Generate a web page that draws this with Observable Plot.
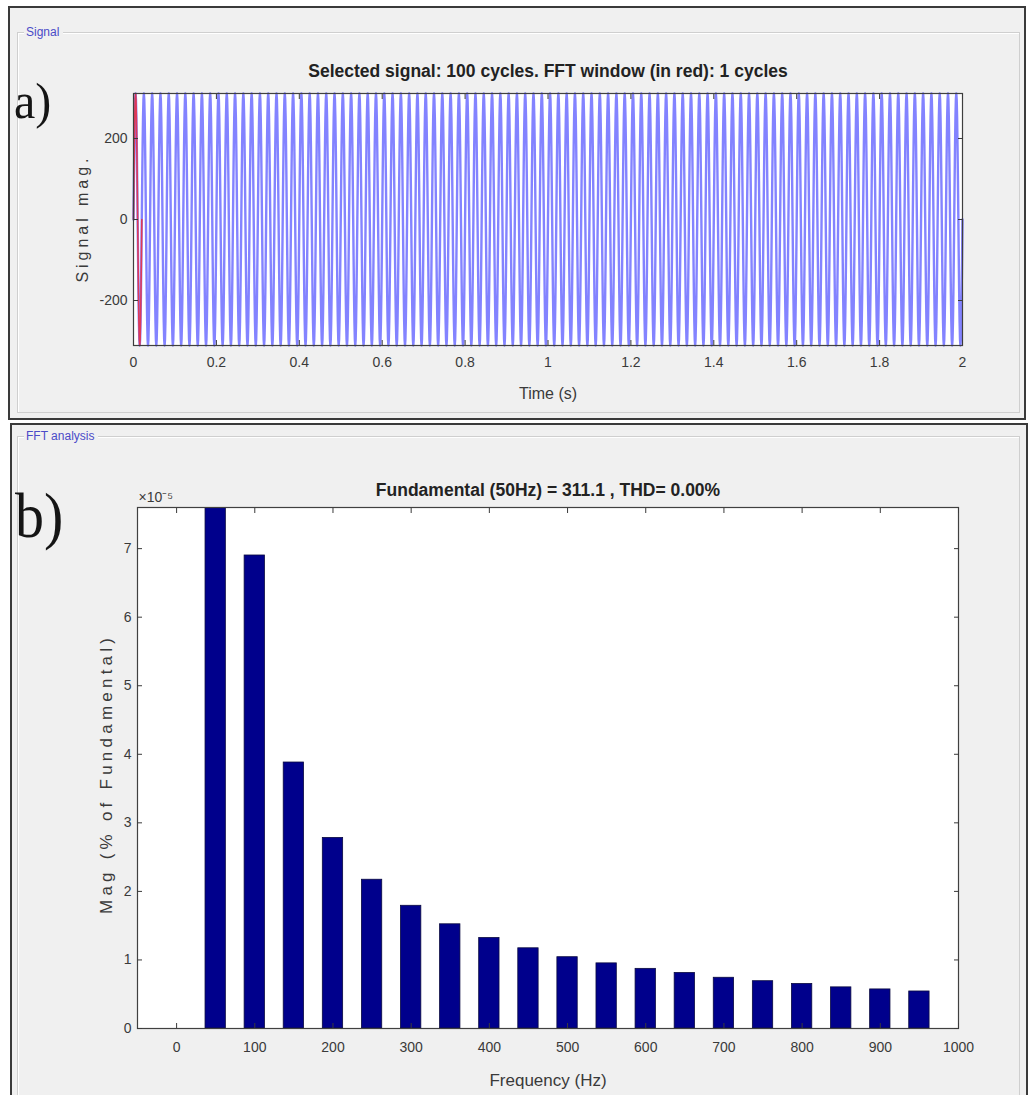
<!DOCTYPE html>
<html><head><meta charset="utf-8">
<script src="https://cdn.jsdelivr.net/npm/d3@7"></script>
<script src="https://cdn.jsdelivr.net/npm/@observablehq/plot@0.6"></script>
<style>
html,body{margin:0;padding:0;overflow:hidden;background:#fff;}
#page{position:relative;width:1031px;height:1095px;overflow:hidden;background:#fff;font-family:"Liberation Sans",Arial,sans-serif;}
.panel{position:absolute;background:#f0f0f0;border:2px solid #3a3a3a;box-sizing:border-box;}
.group{position:absolute;border:1px solid #cfcfcf;box-shadow:inset 1px 1px 0 #fff;box-sizing:border-box;}
.glabel{position:absolute;font-size:12px;color:#4b4bc8;background:#f0f0f0;padding:0 4px 0 2px;line-height:14px;}
.tag{position:absolute;font-family:"Liberation Serif","Times New Roman",serif;color:#151515;line-height:1;transform-origin:0 0;}
.chart{position:absolute;left:0;}
</style></head>
<body>
<div id="page">
  <div class="panel" style="left:8px;top:6px;width:1018px;height:414px;"></div>
  <div class="group" style="left:17px;top:32px;width:1003px;height:381px;"></div>
  <div class="glabel" style="left:24px;top:25px;">Signal</div>
  <div class="panel" style="left:10px;top:423px;width:1018px;height:700px;"></div>
  <div class="group" style="left:17px;top:436px;width:1003px;height:700px;"></div>
  <div class="glabel" style="left:24px;top:429px;">FFT analysis</div>
  <div id="sig" class="chart" style="top:0px;"></div>
  <div id="fft" class="chart" style="top:420px;"></div>
  <div class="tag" style="left:14px;top:76px;font-size:48px;transform:scaleY(1.05);">a)</div>
  <div class="tag" style="left:15px;top:484px;font-size:58px;transform:scaleY(1.1);">b)</div>
</div>
<script>
// ---- Data ----
// one period of the 50 Hz signal, sampled every 1 ms (20 samples)
const periodSamples = [0, 96.1, 182.9, 251.7, 295.9, 311.1, 295.9, 251.7, 182.9, 96.1,
                       0, -96.1, -182.9, -251.7, -295.9, -311.1, -295.9, -251.7, -182.9, -96.1];
const cycles = 100;          // selected signal: 100 cycles
const windowCycles = 1;      // FFT window: 1 cycle
const timeTicks = [0, 0.2, 0.4, 0.6, 0.8, 1, 1.2, 1.4, 1.6, 1.8, 2];
const sigTicks = [-200, 0, 200];
const sigTitle = "Selected signal: 100 cycles. FFT window (in red): 1 cycles";

const freqs = [50, 100, 150, 200, 250, 300, 350, 400, 450, 500, 550, 600, 650, 700, 750, 800, 850, 900, 950];
const mags  = [7.6, 6.9, 3.88, 2.78, 2.17, 1.79, 1.52, 1.32, 1.17, 1.04, 0.95, 0.87, 0.81, 0.74, 0.69, 0.65, 0.60, 0.57, 0.54];
const freqTicks = [0, 100, 200, 300, 400, 500, 600, 700, 800, 900, 1000];
const magTicks = [0, 1, 2, 3, 4, 5, 6, 7];
const fftTitle = "Fundamental (50Hz) = 311.1 , THD= 0.00%";

// ---- Build tables ----
const n = periodSamples.length;
const signal = [];
for (let c = 0; c < cycles; c++) {
  for (let k = 0; k < n; k++) signal.push({t: (c * n + k) / 1000, v: periodSamples[k]});
}
signal.push({t: cycles * n / 1000, v: periodSamples[0]});
const windowPts = signal.slice(0, windowCycles * n + 1);
const harm = freqs.map((f, i) => ({f, m: mags[i]}));

const FONT = "'Liberation Sans', Arial, sans-serif";
const INK = "#3a3a3a";
const plain = d => String(+(+d).toFixed(1));

// ---- Signal plot ----
const sig = Plot.plot({
  width: 1031, height: 420,
  marginLeft: 133, marginRight: 69, marginTop: 93, marginBottom: 75,
  style: {background: "transparent", fontFamily: FONT, overflow: "visible"},
  x: {domain: [0, 2]},
  y: {domain: [-311.1, 311.1]},
  marks: [
    Plot.frame({fill: "white"}),
    Plot.line(signal, {x: "t", y: "v", stroke: "#3030ff", strokeWidth: 2.4, strokeOpacity: 0.6}),
    Plot.line(windowPts, {x: "t", y: "v", stroke: "#ff2020", strokeWidth: 1.6, strokeOpacity: 0.75}),
    Plot.frame({stroke: "#404040", strokeWidth: 1.2}),
    Plot.axisX(timeTicks, {anchor: "bottom", tickSize: -5, tickPadding: 17, label: null, fontSize: 14, color: INK, tickFormat: plain}),
    Plot.axisX(timeTicks, {anchor: "top", tickSize: -5, label: null, tickFormat: () => "", color: INK}),
    Plot.axisY(sigTicks, {anchor: "left", tickSize: -5, tickPadding: 11, label: null, fontSize: 14, color: INK, tickFormat: plain}),
    Plot.axisY(sigTicks, {anchor: "right", tickSize: -5, label: null, tickFormat: () => "", color: INK}),
    Plot.text([sigTitle], {text: d => d, frameAnchor: "top", lineAnchor: "bottom", dy: -17, fontSize: 17.5, fontWeight: "bold", fill: "#222"}),
    Plot.text(["Time (s)"], {text: d => d, frameAnchor: "bottom", lineAnchor: "bottom", dy: 53, fontSize: 16, fill: INK}),
    Plot.text(["Signal mag."], {text: d => d, frameAnchor: "left", textAnchor: "middle", rotate: -90, dx: -51, dy: 1, fontSize: 16, fill: INK})
  ]
});
document.getElementById("sig").appendChild(sig);

// ---- FFT plot ----
const fft = Plot.plot({
  width: 1031, height: 675,
  marginLeft: 137, marginRight: 73, marginTop: 87, marginBottom: 67,
  style: {background: "transparent", fontFamily: FONT, overflow: "visible"},
  x: {domain: [-50, 1000]},
  y: {domain: [0, 7.6]},
  marks: [
    Plot.frame({fill: "white"}),
    Plot.rectY(harm, {x1: d => d.f - 13, x2: d => d.f + 13, y: "m", fill: "#00008c", stroke: "#0a0a40", strokeWidth: 0.8, clip: true}),
    Plot.frame({stroke: "#404040", strokeWidth: 1.2}),
    Plot.axisX(freqTicks, {anchor: "bottom", tickSize: -5, tickPadding: 19, label: null, fontSize: 14, color: INK, tickFormat: plain}),
    Plot.axisX(freqTicks, {anchor: "top", tickSize: -5, label: null, tickFormat: () => "", color: INK}),
    Plot.axisY(magTicks, {anchor: "left", tickSize: -5, tickPadding: 11, label: null, fontSize: 14, color: INK, tickFormat: plain}),
    Plot.axisY(magTicks, {anchor: "right", tickSize: -5, label: null, tickFormat: () => "", color: INK}),
    Plot.text([fftTitle], {text: d => d, frameAnchor: "top", lineAnchor: "bottom", dy: -12, fontSize: 17.5, fontWeight: "bold", fill: "#222"}),
    Plot.text(["\u00d710\u207b\u2075"], {text: d => d, frameAnchor: "top-left", textAnchor: "start", lineAnchor: "bottom", dx: 1, dy: -6, fontSize: 14, fill: INK}),
    Plot.text(["Frequency (Hz)"], {text: d => d, frameAnchor: "bottom", lineAnchor: "bottom", dy: 57, fontSize: 17, fill: INK}),
    Plot.text(["Mag (% of Fundamental)"], {text: d => d, frameAnchor: "left", textAnchor: "middle", rotate: -90, dx: -31, dy: 8, fontSize: 17, fill: INK})
  ]
});
document.getElementById("fft").appendChild(fft);

// stretched look of the rotated axis titles
d3.selectAll("svg text").filter(function() { return this.textContent === "Signal mag."; })
  .attr("textLength", 124).attr("lengthAdjust", "spacing");
d3.selectAll("svg text").filter(function() { return this.textContent === "Mag (% of Fundamental)"; })
  .attr("textLength", 276).attr("lengthAdjust", "spacing");
</script>
</body></html>
